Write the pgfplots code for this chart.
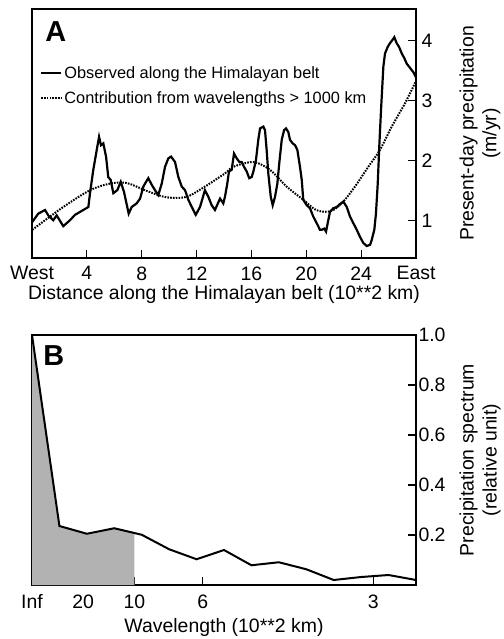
\documentclass[border=0pt]{standalone}
\usepackage{fontspec}
\setmainfont{Liberation Sans}
\usepackage{pgfplots}
\pgfplotsset{compat=1.18}
\begin{document}
\begin{tikzpicture}
\useasboundingbox (0,0) rectangle (504bp,-639bp);
\pgfplotsset{
  common/.style={
    scale only axis, width=384bp,
    tick align=inside, major tick length=8bp,
    axis line style={line width=1.2bp}, tick style={line width=1.2bp, black},
    tick label style={font=\fontsize{19.5}{22}\selectfont},
    label style={font=\fontsize{19.5}{23}\selectfont},
    /pgf/number format/assume math mode=true,
    xtick pos=left, ytick pos=right, yticklabel pos=right,
  }
}
% Panel A
\begin{axis}[common,
  at={(32bp,-258bp)}, anchor=south west, height=249bp,
  xmin=0, xmax=28, ymin=0.38, ymax=4.53,
  xtick={0,4,...,28}, xticklabels={West,4,8,12,16,20,24,East},
  ytick={1,2,3,4},
  xticklabel style={yshift=-5bp},
  yticklabel style={xshift=2bp},
  xlabel={Distance along the Himalayan belt (10**2 km)},
  xlabel style={at={(axis description cs:0.5,0)}, anchor=north, yshift=-23.5bp},
  ylabel={Present-day precipitation\\(m/yr)},
  ylabel style={at={(axis description cs:1.1667,0.5)}, anchor=center, align=center},
  legend style={draw=none, fill=none, at={(axis description cs:0.013,0.787)}, anchor=north west,
    font=\fontsize{16.4}{19}\selectfont, row sep=8bp},
  legend cell align=left,
  legend image code/.code={\draw[#1] (0bp,0bp) -- (20bp,0bp);},
]
\addplot[black, line width=2.2bp] coordinates {
(0.02,0.98) (0.46,1.12) (0.95,1.18) (1.19,1.09) (1.55,1.01) (1.80,1.09) (2.28,0.91)
(2.77,1.01) (3.14,1.10) (3.74,1.18) (4.11,1.23) (4.23,1.46) (4.47,1.85) (4.72,2.18)
(4.89,2.40) (5.03,2.26) (5.20,2.29) (5.40,2.07) (5.56,1.73) (5.74,1.68) (5.93,1.46)
(6.22,1.51) (6.47,1.65) (6.71,1.48) (7.05,1.12) (7.27,1.23) (7.63,1.29)
(7.88,1.37) (8.12,1.57) (8.24,1.62) (8.48,1.71) (8.73,1.60) (8.97,1.51) (9.21,1.43)
(9.46,1.62) (9.70,1.90) (9.94,2.04) (10.14,2.07) (10.43,1.98) (10.67,1.73) (10.92,1.57)
(11.16,1.51) (11.40,1.35) (11.65,1.23) (11.94,1.10) (12.25,1.23) (12.61,1.51) (12.86,1.40)
(13.10,1.26) (13.34,1.18) (13.71,1.37) (13.95,1.29) (14.07,1.40) (14.24,1.62) (14.36,1.82)
(14.56,1.85) (14.73,2.12) (14.93,2.04) (15.12,1.98) (15.29,1.98) (15.46,1.90) (15.66,1.82)
(15.84,1.71) (16.02,1.73) (16.14,1.82) (16.33,2.01) (16.50,2.35) (16.63,2.54) (16.87,2.57)
(16.99,2.51) (17.11,2.18) (17.23,1.79) (17.41,1.40) (17.55,1.26) (17.72,1.40) (17.89,1.62)
(18.03,1.96) (18.21,2.35) (18.38,2.51) (18.52,2.54) (18.69,2.48) (18.81,2.35) (19.01,2.29)
(19.18,2.26) (19.35,2.18) (19.54,1.90) (19.67,1.68) (19.78,1.35) (20.03,1.26) (20.27,1.21)
(20.51,1.07) (20.76,0.96) (21.00,0.85) (21.12,0.85) (21.31,0.87) (21.44,0.82) (21.56,0.96)
(21.73,1.15) (21.97,1.21) (22.22,1.23) (22.46,1.28) (22.70,1.32) (22.95,1.23) (23.19,1.07)
(23.43,0.96) (23.68,0.85) (23.92,0.73) (24.16,0.63) (24.41,0.58) (24.65,0.60) (24.77,0.68)
(24.96,0.85) (25.08,1.12) (25.21,1.62) (25.32,2.23) (25.45,2.85) (25.62,3.57) (25.74,3.79)
(25.94,3.90) (26.10,3.96) (26.27,4.01) (26.42,4.06) (26.59,3.96) (26.76,3.90) (26.96,3.79)
(27.15,3.71) (27.32,3.62) (27.49,3.57) (27.69,3.51) (27.80,3.48) (27.98,3.40)
};
\addlegendentry{Observed along the Himalayan belt}
\addplot[black, dash pattern=on 1.6bp off 1.2bp, line width=2bp, smooth] coordinates {
(0.02,0.85) (2.28,1.23) (4.23,1.51) (5.69,1.62) (6.9,1.63) (8.24,1.51) (9.46,1.41)
(10.43,1.38) (11.40,1.41) (12.61,1.57) (14.07,1.79) (14.68,1.90) (16.14,1.98) (17.35,1.85)
(18.57,1.57) (19.78,1.35) (20.64,1.19) (21.36,1.15) (21.97,1.18) (22.7,1.32) (23.55,1.57)
(24.52,1.90) (25.37,2.18) (26.23,2.57) (27.2,2.96) (27.98,3.32)
};
\addlegendentry{Contribution from wavelengths > 1000 km}
\node[anchor=base west, font=\fontsize{29}{32}\selectfont\bfseries, inner sep=0pt]
  at (axis description cs:0.034,0.869) {A};
\end{axis}
% Panel B
\begin{axis}[common,
  at={(32bp,-585bp)}, anchor=south west, height=250bp,
  xmin=0, xmax=14, ymin=0, ymax=1,
  xtick={0,1.8667,3.7333,6.2222,12.4444}, xticklabels={Inf,20,10,6,3},
  ytick={0.2,0.4,0.6,0.8,1.0},
  xticklabel style={yshift=-6bp},
  yticklabel style={xshift=-1bp, /pgf/number format/.cd, fixed, fixed zerofill, precision=1},
  xlabel={Wavelength (10**2 km)},
  xlabel style={at={(axis description cs:0.5,0)}, anchor=north, yshift=-30bp},
  ylabel={Precipitation spectrum\\(relative unit)},
  ylabel style={at={(axis description cs:1.1667,0.5)}, anchor=center, align=center},
]
\addplot[draw=none, fill=black!30] coordinates {
(0,1) (1,0.236) (2,0.205) (3,0.227) (3.7333,0.208)
} \closedcycle;
\addplot[black, line width=2bp] coordinates {
(0,1) (1,0.236) (2,0.205) (3,0.227) (4,0.201) (5,0.143) (6,0.103) (7,0.140)
(8,0.079) (9,0.091) (10,0.063) (11,0.020) (12,0.032) (13,0.040) (14,0.020)
};
\node[anchor=base west, font=\fontsize{29}{32}\selectfont\bfseries, inner sep=0pt]
  at (axis description cs:0.029,0.88) {B};
\end{axis}
\end{tikzpicture}
\end{document}
